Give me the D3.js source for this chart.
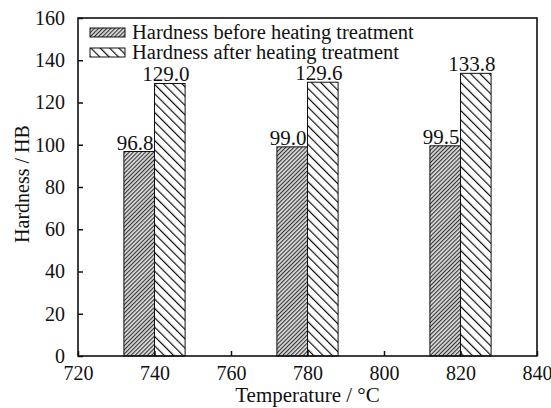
<!DOCTYPE html>
<html>
<head>
<meta charset="UTF-8">
<title>Hardness bar chart</title>
<script src="https://cdn.jsdelivr.net/npm/d3@7/dist/d3.min.js"></script>
<style type="text/css">
body, html {
    margin: 0;
    background: #fff;
}
svg text {
    font-family: "Liberation Serif", "Times New Roman", serif;
    fill: #111;
}
</style>
</head>
<body>
<div class="barGraph"></div>
<script type="text/javascript">
var temps     = [740, 780, 820];
var before    = [96.8, 99.0, 99.5];
var after     = [129.0, 129.6, 133.8];
var labels    = ["96.8", "99.0", "99.5"];
var labelsAft = ["129.0", "129.6", "133.8"];
var xTicks    = [720, 740, 760, 780, 800, 820, 840];
var yTicks    = [0, 20, 40, 60, 80, 100, 120, 140, 160];
var seriesNames = ["Hardness before heating treatment", "Hardness after heating treatment"];
var barW = 8; // bar width in °C units

var margin = {top: 18, right: 14, bottom: 52, left: 78},
    width  = 551 - margin.left - margin.right,
    height = 408 - margin.top - margin.bottom;

var x = d3.scaleLinear().domain([720, 840]).range([0, width]),
    y = d3.scaleLinear().domain([0, 160]).range([height, 0]);

var svg = d3.select(".barGraph")
    .append("svg")
    .attr("width", 551)
    .attr("height", 408);

// hatch patterns
var defs = svg.append("defs");
defs.append("pattern")
    .attr("id", "hatchBefore")
    .attr("patternUnits", "userSpaceOnUse")
    .attr("width", 2.9).attr("height", 2.9)
    .attr("patternTransform", "rotate(45)")
    .call(function (p) {
        p.append("rect").attr("width", 2.9).attr("height", 2.9).attr("fill", "#d8d8d8");
        p.append("line").attr("x1", 0.5).attr("x2", 0.5).attr("y1", 0).attr("y2", 2.9)
            .attr("stroke", "#333").attr("stroke-width", 1.1);
    });
defs.append("pattern")
    .attr("id", "hatchAfter")
    .attr("patternUnits", "userSpaceOnUse")
    .attr("width", 6.6).attr("height", 6.6)
    .attr("patternTransform", "rotate(-45)")
    .call(function (p) {
        p.append("rect").attr("width", 6.6).attr("height", 6.6).attr("fill", "#fff");
        p.append("line").attr("x1", 0.6).attr("x2", 0.6).attr("y1", 0).attr("y2", 6.6)
            .attr("stroke", "#111").attr("stroke-width", 1.2);
    });

var g = svg.append("g")
    .attr("transform", "translate(" + margin.left + "," + margin.top + ")");

// bars
g.selectAll(".barBefore")
    .data(temps)
    .enter()
    .append("rect")
    .attr("class", "barBefore")
    .attr("x", function (d) { return x(d - barW); })
    .attr("width", function (d) { return x(d) - x(d - barW); })
    .attr("y", function (d, i) { return y(before[i]); })
    .attr("height", function (d, i) { return height - y(before[i]); })
    .attr("fill", "url(#hatchBefore)")
    .attr("stroke", "#111")
    .attr("stroke-width", 1);

g.selectAll(".barAfter")
    .data(temps)
    .enter()
    .append("rect")
    .attr("class", "barAfter")
    .attr("x", function (d) { return x(d); })
    .attr("width", function (d) { return x(d + barW) - x(d); })
    .attr("y", function (d, i) { return y(after[i]); })
    .attr("height", function (d, i) { return height - y(after[i]); })
    .attr("fill", "url(#hatchAfter)")
    .attr("stroke", "#111")
    .attr("stroke-width", 1);

// value labels
g.selectAll(".lblBefore")
    .data(temps)
    .enter()
    .append("text")
    .attr("x", function (d) { return x(d) - 1; })
    .attr("y", function (d, i) { return y(before[i]) - 2; })
    .attr("text-anchor", "end")
    .style("font-size", "21px")
    .text(function (d, i) { return labels[i]; });

g.selectAll(".lblAfter")
    .data(temps)
    .enter()
    .append("text")
    .attr("x", function (d) { return x(d + barW / 2) - 4; })
    .attr("y", function (d, i) { return y(after[i]) - 2; })
    .attr("text-anchor", "middle")
    .style("font-size", "21px")
    .text(function (d, i) { return labelsAft[i]; });

// axes (ticks inward)
var xAxis = d3.axisBottom(x).tickValues(xTicks).tickSizeInner(-5).tickSizeOuter(0).tickPadding(10);
var yAxis = d3.axisLeft(y).tickValues(yTicks).tickSizeInner(-5).tickSizeOuter(0).tickPadding(13);

var gx = g.append("g")
    .attr("transform", "translate(0," + height + ")")
    .call(xAxis);
var gy = g.append("g").call(yAxis);

[gx, gy].forEach(function (a) {
    a.attr("font-family", null).attr("font-size", null);
    a.select(".domain").remove();
    a.selectAll("line").attr("stroke", "#111").attr("stroke-width", 1.5);
    a.selectAll("text")
        .style("font-size", "20px")
        .style("font-family", "'Liberation Serif', 'Times New Roman', serif")
        .style("fill", "#111");
});

// frame
g.append("rect")
    .attr("width", width)
    .attr("height", height)
    .attr("fill", "none")
    .attr("stroke", "#111")
    .attr("stroke-width", 1.6);

// axis titles
svg.append("text")
    .attr("x", margin.left + width / 2)
    .attr("y", 402)
    .attr("text-anchor", "middle")
    .style("font-size", "21px")
    .text("Temperature / \u00B0C");

svg.append("text")
    .attr("transform", "translate(29," + (margin.top + height / 2 - 3) + ") rotate(-90)")
    .attr("text-anchor", "middle")
    .style("font-size", "20px")
    .text("Hardness / HB");

// legend
var legend = g.selectAll(".legend")
    .data(seriesNames)
    .enter()
    .append("g")
    .attr("transform", function (d, i) { return "translate(12," + (10 + i * 20) + ")"; });

legend.append("rect")
    .attr("width", 35)
    .attr("height", 9)
    .attr("fill", function (d, i) { return i === 0 ? "url(#hatchBefore)" : "url(#hatchAfter)"; })
    .attr("stroke", "#111")
    .attr("stroke-width", 1);

legend.append("text")
    .attr("x", 42)
    .attr("y", 11)
    .style("font-size", "20.5px")
    .text(function (d) { return d; });
</script>
</body>
</html>
